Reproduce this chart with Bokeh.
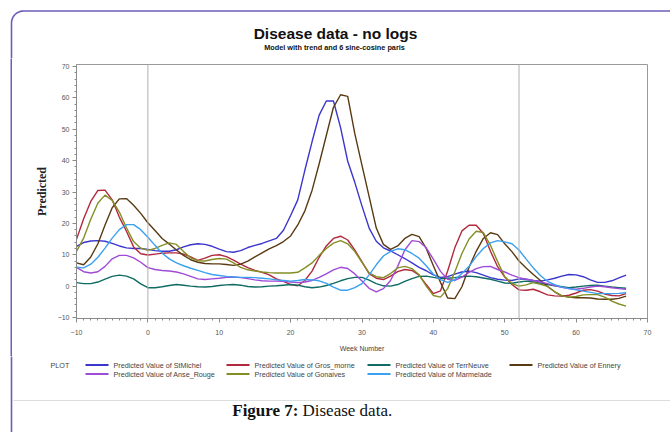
import math
from bokeh.plotting import figure
from bokeh.layouts import column, row, Spacer
from bokeh.models import Range1d, Span, FixedTicker
from bokeh.core.properties import value
from bokeh.embed import file_html
from bokeh.resources import INLINE

weeks = [-10, -9, -8, -7, -6, -5, -4, -3, -2, -1,
         0, 1, 2, 3, 4, 5, 6, 7, 8, 9,
         10, 11, 12, 13, 14, 15, 16, 17, 18, 19,
         20, 21, 22, 23, 24, 25, 26, 27, 28, 29,
         30, 31, 32, 33, 34, 35, 36, 37, 38, 39,
         40, 41, 42, 43, 44, 45, 46, 47, 48, 49,
         50, 51, 52, 53, 54, 55, 56, 57, 58, 59,
         60, 61, 62, 63, 64, 65, 66, 67]

st_michel = [12.7, 13.9, 14.4, 14.5, 14.3, 13.6, 12.8, 12.2, 12.0, 12.0,
             11.7, 11.3, 11.1, 11.1, 11.6, 12.5, 13.2, 13.5, 13.3, 12.7,
             11.8, 11.0, 10.8, 11.3, 12.3, 13.0, 13.6, 14.4, 15.2, 17.8,
             22.5, 27.5, 37.0, 46.0, 54.5, 59.0, 59.0, 50.5, 39.8, 33.0,
             25.5, 18.5, 14.3, 12.2, 11.2, 10.0, 8.8, 7.4, 6.0, 4.9,
             3.6, 2.8, 3.0, 3.8, 4.5, 4.8, 4.3, 3.5, 2.7, 2.2,
             1.9, 1.8, 2.3, 2.2, 1.8, 1.6, 2.0, 2.5, 3.2, 3.7,
             3.6, 3.0, 2.0, 1.2, 1.2, 1.7, 2.6, 3.5]

gros_morne = [14.9, 21.5, 27.0, 30.5, 30.6, 27.5, 22.0, 17.5, 12.5, 10.3,
              9.9, 10.2, 10.5, 10.6, 10.6, 10.2, 9.3, 8.2, 8.9, 9.8,
              10.0, 9.4, 8.3, 7.0, 5.9, 5.0, 4.4, 3.6, 2.3, 1.5,
              0.5, 0.1, 1.8, 4.8, 9.2, 12.8, 15.2, 15.9, 14.7, 11.5,
              7.7, 4.0, 2.5, 2.1, 3.2, 4.6, 5.3, 5.0, 3.5, 0.5,
              -2.4, -1.5, 4.8, 12.2, 17.6, 19.4, 19.4, 16.8, 11.1, 6.2,
              2.9, 0.5, -1.2, -1.3, -1.0, -1.8, -2.8, -3.1, -3.2, -2.9,
              -2.2, -1.3, -1.1, -1.6, -2.5, -3.0, -3.1, -2.4]

terr_neuve = [1.1, 0.8, 0.8, 1.3, 2.2, 3.1, 3.5, 3.2, 2.3, 0.7,
              -0.5, -0.5, -0.2, 0.2, 0.5, 0.3, 0.0, -0.2, -0.3, -0.1,
              0.2, 0.4, 0.5, 0.3, -0.1, -0.3, -0.2, 0.0, 0.1, 0.3,
              0.5, 0.3, -0.2, -0.5, -0.3, 0.2, 0.9, 1.7, 2.4, 2.8,
              2.8, 1.9, 0.8, 0.1, 0.0, 0.5, 1.5, 2.4, 3.1, 3.2,
              2.8, 2.4, 2.5, 2.7, 3.0, 3.2, 3.0, 2.6, 2.2, 1.6,
              1.0, 0.9, 1.3, 1.6, 1.3, 0.9, 0.5, 0.1, -0.2, -0.5,
              -0.3, 0.0, 0.2, 0.3, 0.0, -0.3, -0.5, -0.7]

ennery = [7.4, 6.8, 9.3, 13.5, 19.5, 25.0, 27.8, 27.9, 25.8, 23.2,
          20.2, 17.7, 15.2, 13.4, 11.5, 9.8, 8.4, 7.6, 7.2, 7.1,
          7.1, 6.9, 6.6, 7.0, 8.0, 9.3, 10.6, 11.9, 12.9, 14.2,
          16.0, 19.5, 24.0, 30.5, 39.0, 48.0, 57.0, 61.0, 60.5, 48.5,
          38.5, 28.5, 18.5, 13.3, 11.7, 12.8, 15.2, 16.5, 15.8, 12.0,
          6.5, 1.2, -3.8, -4.0, -0.2, 6.0, 11.1, 15.2, 17.0, 16.4,
          13.5, 11.0, 8.0, 5.8, 3.7, 1.8, -0.1, -1.8, -3.1, -3.5,
          -3.7, -3.7, -3.8, -4.1, -4.2, -4.2, -3.9, -3.2]

anse_rouge = [6.0, 4.6, 4.2, 4.6, 6.3, 8.7, 9.8, 9.8, 9.0, 7.6,
              5.9, 5.3, 5.0, 4.8, 4.5, 3.9, 3.1, 2.3, 2.1, 2.3,
              2.5, 2.8, 2.9, 2.7, 2.4, 2.0, 1.7, 1.6, 1.6, 1.5,
              1.3, 1.1, 1.3, 1.8, 2.8, 3.9, 5.2, 6.0, 5.6, 3.9,
              1.6, -0.7, -1.8, -0.8, 1.8, 6.3, 11.5, 14.5, 14.2, 12.2,
              8.6, 4.7, 2.2, 1.8, 2.9, 4.4, 5.6, 6.2, 6.3, 5.3,
              4.5, 3.5, 2.7, 2.2, 1.8, 1.3, 0.8, 0.2, -0.4, -0.8,
              -1.0, -0.7, -0.3, 0.0, -0.2, -0.5, -0.8, -1.0]

gonaives = [11.1, 15.3, 21.3, 26.5, 29.0, 27.3, 23.6, 18.6, 14.2, 12.1,
            11.4, 12.0, 13.0, 13.8, 13.3, 11.0, 9.0, 8.1, 8.0, 8.5,
            8.8, 8.6, 7.4, 6.0, 5.2, 4.8, 4.5, 4.3, 4.2, 4.2,
            4.2, 4.4, 5.8, 7.4, 9.8, 12.0, 13.7, 14.5, 13.5, 11.0,
            7.6, 4.2, 3.0, 2.7, 4.0, 5.8, 6.3, 5.6, 3.6, 0.0,
            -3.0, -3.5, -0.8, 4.5, 10.4, 15.0, 17.5, 17.1, 13.0, 7.8,
            3.0, 0.8, 0.0, 0.4, 1.1, 0.6, -0.1, -1.8, -3.1, -3.5,
            -3.3, -2.8, -2.7, -2.7, -3.5, -4.8, -5.7, -6.4]

marmelade = [6.0, 5.8, 7.0, 9.2, 12.1, 15.3, 18.0, 19.6, 19.6, 18.0,
             15.6, 13.0, 10.5, 8.7, 7.4, 6.5, 5.7, 5.0, 4.3, 3.7,
             3.4, 3.1, 2.9, 2.8, 2.8, 2.7, 2.5, 2.3, 2.0, 1.8,
             1.6, 1.8, 2.1, 2.0, 1.7, 0.9, -0.3, -1.3, -1.3, -0.5,
             0.8, 3.6, 6.8, 9.6, 11.1, 11.9, 11.6, 10.4, 8.9, 6.5,
             3.8, 2.1, 1.2, 2.0, 4.0, 6.3, 9.4, 12.0, 13.8, 14.5,
             14.1, 13.5, 11.5, 8.6, 5.8, 3.4, 1.5, 0.5, -0.3, -0.8,
             -1.2, -1.6, -2.0, -2.4, -2.4, -2.4, -2.3, -2.1]

series_names = ["StMichel", "Gros_morne", "TerrNeuve", "Ennery",
                "Anse_Rouge", "Gonaives", "Marmelade"]
series_values = [st_michel, gros_morne, terr_neuve, ennery,
                 anse_rouge, gonaives, marmelade]
series_colors = ["#3b36cc", "#b2283c", "#0f6b63", "#5a3a12",
                 "#a04ad8", "#838f25", "#3aa0f0"]

x_ticks = [-10, 0, 10, 20, 30, 40, 50, 60, 70]
y_ticks = [-10, 0, 10, 20, 30, 40, 50, 60, 70]
ref_weeks = [0, 52]

title_text = "Disease data - no logs"
subtitle_text = "Model with trend and 6 sine-cosine paris"
legend_head = "PLOT"
legend_prefix = "Predicted Value of "
caption_bold = "Figure 7:"
caption_rest = "Disease data."

SANS = "Liberation Sans"
SERIF = "Liberation Serif"
BORDER = "#6a5fb8"
BORDER_W = 1.6

W, H = 670, 432
HEAD_H = 58          # header strip
MID_BOTTOM = 356     # page y where the chart block ends
STRIP_W = 20
FL, FR, FT, FB = 76, 647, 64, 318   # chart frame in page pixels
X0, X1 = -10, 70
Y0, Y1 = -10.32, 70.64
BX, BY, BR = 11, 10.5, 12          # page frame: left x, top y, corner radius


def blank(width, height):
    f = figure(width=width, height=height, x_range=Range1d(0, width),
               y_range=Range1d(height, 0), x_axis_type=None, y_axis_type=None,
               min_border=0, output_backend="svg", toolbar_location=None,
               background_fill_color="white", border_fill_color="white")
    f.xgrid.visible = False
    f.ygrid.visible = False
    f.outline_line_color = None
    return f


# ---------- header ----------
head = blank(W, HEAD_H)
corner_x = [BX, BX]
corner_y = [HEAD_H + 2, BY + BR]
for k in range(1, 12):
    a = math.pi - k * (math.pi / 2) / 12
    corner_x.append(BX + BR + BR * math.cos(a))
    corner_y.append(BY + BR - BR * math.sin(a))
corner_x += [BX + BR, W + 2]
corner_y += [BY, BY]
head.line(corner_x, corner_y, line_color=BORDER, line_width=BORDER_W)
head.text(x=[335], y=[33], text=[title_text], text_font=value(SANS),
          text_font_style="bold", text_font_size="15.5px", text_align="center",
          text_baseline="middle", text_color="#111111")
head.text(x=[334], y=[46.5], text=[subtitle_text], text_font=value(SANS),
          text_font_style="bold", text_font_size="7.3px", text_align="center",
          text_baseline="middle", text_color="#111111")

# ---------- left strip: a 2px wide figure filled with the frame colour ----------
mid_h = MID_BOTTOM - HEAD_H
bar = figure(width=2, height=mid_h, x_axis_type=None, y_axis_type=None, min_border=0,
             output_backend="svg", toolbar_location=None,
             background_fill_color=BORDER, border_fill_color=BORDER)
bar.xgrid.visible = False
bar.ygrid.visible = False
bar.outline_line_color = None
strip = row(Spacer(width=10, height=mid_h), bar, Spacer(width=STRIP_W - 12, height=mid_h),
            spacing=0)

# ---------- chart ----------
main_w = W - STRIP_W
p = figure(width=main_w, height=mid_h, x_range=Range1d(X0, X1), y_range=Range1d(Y0, Y1),
           min_border_left=FL - STRIP_W, min_border_right=W - FR,
           min_border_top=FT - HEAD_H, min_border_bottom=MID_BOTTOM - FB,
           output_backend="svg", toolbar_location=None,
           background_fill_color="white", border_fill_color="white")
p.xgrid.visible = False
p.ygrid.visible = False
p.outline_line_color = "#9a9a9a"
p.outline_line_width = 1

for ax in (p.xaxis[0], p.yaxis[0]):
    ax.axis_line_color = "#8a8a8a"
    ax.major_tick_line_color = "#8a8a8a"
    ax.minor_tick_line_color = "#8a8a8a"
    ax.major_tick_out = 4
    ax.major_tick_in = 0
    ax.minor_tick_out = 2
    ax.minor_tick_in = 0
    ax.major_label_text_font = SANS
    ax.major_label_text_font_size = "7px"
    ax.major_label_text_color = "#555555"

p.xaxis[0].ticker = FixedTicker(ticks=x_ticks, minor_ticks=list(range(-10, 71)))
p.yaxis[0].ticker = FixedTicker(ticks=y_ticks, minor_ticks=list(range(-10, 71, 2)))
p.xaxis.major_label_standoff = 7
p.yaxis.major_label_standoff = 3

p.xaxis.axis_label = "Week Number"
p.xaxis.axis_label_text_font = SANS
p.xaxis.axis_label_text_font_style = "normal"
p.xaxis.axis_label_text_font_size = "7px"
p.xaxis.axis_label_text_color = "#444444"
p.xaxis.axis_label_standoff = 7

p.yaxis.axis_label = "Predicted"
p.yaxis.axis_label_text_font = SERIF
p.yaxis.axis_label_text_font_style = "bold"
p.yaxis.axis_label_text_font_size = "12px"
p.yaxis.axis_label_text_color = "#222222"
p.yaxis.axis_label_standoff = 6

for wk in ref_weeks:
    p.add_layout(Span(location=wk, dimension="height", line_color="#b0b0b0", line_width=1))

for name, vals, col in zip(series_names, series_values, series_colors):
    p.line(weeks, vals, line_color=col, line_width=1.4)

# ---------- bottom: legend + caption ----------
bot_h = H - MID_BOTTOM
bot = blank(W, bot_h)


def by(py):
    return py - MID_BOTTOM


bot.segment(x0=[BX], y0=[-2], x1=[BX], y1=[bot_h + 2], line_color=BORDER, line_width=BORDER_W)
bot.segment(x0=[13], y0=[by(400)], x1=[W], y1=[by(400)], line_color="#dddddd", line_width=1)

bot.text(x=[50], y=[by(365)], text=[legend_head], text_font=value(SANS),
         text_font_size="7.2px", text_baseline="middle", text_color="#444444")

legend_cols = [["StMichel", "Anse_Rouge"], ["Gros_morne", "Gonaives"],
               ["TerrNeuve", "Marmelade"], ["Ennery"]]
legend_x = [85, 226, 367, 509]
row_y = [by(364.5), by(373.5)]
color_of = dict(zip(series_names, series_colors))
for names, lx in zip(legend_cols, legend_x):
    for i, n in enumerate(names):
        bot.segment(x0=[lx], y0=[row_y[i]], x1=[lx + 23], y1=[row_y[i]],
                    line_color=color_of[n], line_width=2)
        bot.text(x=[lx + 28], y=[row_y[i]], text=[legend_prefix + n],
                 text_font=value(SANS), text_font_size="7.2px",
                 text_baseline="middle", text_color="#444444")

bot.text(x=[298], y=[by(410)], text=[caption_bold], text_font=value(SERIF),
         text_font_style="bold", text_font_size="17px", text_align="right",
         text_baseline="middle", text_color="#111111")
bot.text(x=[302], y=[by(410)], text=[caption_rest], text_font=value(SERIF),
         text_font_size="17px", text_align="left",
         text_baseline="middle", text_color="#111111")

layout = column(head, row(strip, p, spacing=0), bot, spacing=0)
open("out.html", "w").write(file_html(layout, INLINE))
